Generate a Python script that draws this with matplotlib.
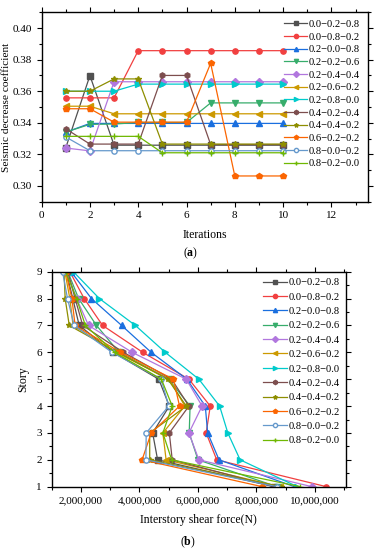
import numpy as np
import matplotlib
matplotlib.use('Agg')
import matplotlib.pyplot as plt
from matplotlib.ticker import MultipleLocator, FuncFormatter

plt.rcParams['font.family'] = ['Liberation Serif', 'DejaVu Serif']
plt.rcParams['font.size'] = 8
plt.rcParams['axes.unicode_minus'] = True
plt.rcParams['mathtext.fontset'] = 'custom'
plt.rcParams['mathtext.bf'] = 'Liberation Serif:bold'
plt.rcParams['mathtext.rm'] = 'Liberation Serif'

labels = ['0.0\u22120.2\u22120.8', '0.0\u22120.8\u22120.2', '0.2\u22120.0\u22120.8',
          '0.2\u22120.2\u22120.6', '0.2\u22120.4\u22120.4', '0.2\u22120.6\u22120.2',
          '0.2\u22120.8\u22120.0', '0.4\u22120.2\u22120.4', '0.4\u22120.4\u22120.2',
          '0.6\u22120.2\u22120.2', '0.8\u22120.0\u22120.2', '0.8\u22120.2\u22120.0']
colors = ['#515151', '#F14040', '#1A6FDF', '#37AD6B', '#B177DE', '#CC9900',
          '#00CBCC', '#7D4E4E', '#8E8E00', '#FB6501', '#6699CC', '#6FB802']
markers = ['s', 'o', '^', 'v', 'D', '<', '>', 'h', '*', 'p', 'o', '+']

# (a) seismic decrease coefficient per iteration
iterations = [1, 2, 3, 4, 5, 6, 7, 8, 9, 10]
coef = [
    [0.3242, 0.3699, 0.3258, 0.3258, 0.3258, 0.3258, 0.3258, 0.3258, 0.3258, 0.3258],
    [0.3558, 0.3558, 0.3558, 0.3857, 0.3857, 0.3857, 0.3857, 0.3857, 0.3857, 0.3857],
    [0.3340, 0.3396, 0.3396, 0.3396, 0.3396, 0.3396, 0.3396, 0.3396, 0.3396, 0.3396],
    [0.3341, 0.3390, 0.3392, 0.3402, 0.3402, 0.3402, 0.3526, 0.3526, 0.3526, 0.3526],
    [0.3240, 0.3222, 0.3660, 0.3660, 0.3660, 0.3660, 0.3660, 0.3660, 0.3660, 0.3660],
    [0.3505, 0.3505, 0.3457, 0.3457, 0.3457, 0.3457, 0.3457, 0.3457, 0.3457, 0.3457],
    [0.3600, 0.3600, 0.3600, 0.3645, 0.3645, 0.3645, 0.3645, 0.3645, 0.3645, 0.3645],
    [0.3362, 0.3265, 0.3265, 0.3265, 0.3700, 0.3700, 0.3262, 0.3262, 0.3262, 0.3262],
    [0.3600, 0.3600, 0.3678, 0.3678, 0.3265, 0.3265, 0.3265, 0.3265, 0.3265, 0.3265],
    [0.3489, 0.3489, 0.3404, 0.3404, 0.3404, 0.3404, 0.3777, 0.3063, 0.3063, 0.3063],
    [0.3310, 0.3223, 0.3223, 0.3223, 0.3223, 0.3223, 0.3223, 0.3223, 0.3223, 0.3223],
    [0.3314, 0.3314, 0.3314, 0.3314, 0.3210, 0.3210, 0.3210, 0.3210, 0.3210, 0.3210],
]

# (b) interstory shear force per story
stories = [1, 2, 3, 4, 5, 6, 7, 8, 9]
shear = [
    [8.60e6, 4.62e6, 4.45e6, 5.02e6, 4.66e6, 3.10e6, 1.94e6, 1.72e6, 1.50e6],
    [10.39e6, 6.64e6, 6.28e6, 6.42e6, 5.69e6, 4.11e6, 2.74e6, 2.11e6, 1.62e6],
    [9.30e6, 6.72e6, 6.33e6, 6.25e6, 5.62e6, 4.40e6, 3.39e6, 2.36e6, 1.66e6],
    [8.70e6, 6.00e6, 5.70e6, 5.73e6, 5.00e6, 3.30e6, 2.53e6, 1.92e6, 1.55e6],
    [9.90e6, 6.03e6, 5.69e6, 6.14e6, 5.60e6, 3.75e6, 2.26e6, 1.85e6, 1.52e6],
    [8.80e6, 4.91e6, 4.80e6, 5.55e6, 5.02e6, 3.20e6, 1.73e6, 1.62e6, 1.45e6],
    [9.40e6, 7.44e6, 7.02e6, 6.74e6, 6.03e6, 4.88e6, 3.86e6, 2.63e6, 1.74e6],
    [8.60e6, 5.12e6, 5.02e6, 5.69e6, 5.10e6, 3.45e6, 2.06e6, 1.80e6, 1.55e6],
    [8.85e6, 4.35e6, 4.35e6, 5.60e6, 4.97e6, 3.25e6, 1.60e6, 1.46e6, 1.42e6],
    [8.20e6, 4.09e6, 4.40e6, 5.37e6, 5.16e6, 3.35e6, 1.80e6, 1.69e6, 1.48e6],
    [8.70e6, 4.22e6, 4.23e6, 5.00e6, 4.74e6, 3.06e6, 1.77e6, 1.54e6, 1.37e6],
    [9.50e6, 5.10e6, 4.80e6, 5.12e6, 4.75e6, 3.15e6, 2.15e6, 1.85e6, 1.48e6],
]


def style_axes(ax):
    ax.tick_params(which='both', direction='out', top=True, right=True,
                   labeltop=False, labelright=False, width=0.8)
    ax.tick_params(which='major', length=3.5)
    ax.tick_params(which='minor', length=2)
    for s in ax.spines.values():
        s.set_linewidth(1.0)


fig = plt.figure(figsize=(3.75, 5.5), dpi=100)

ax1 = fig.add_axes([0.111, 0.6333, 0.8693, 0.3443])
for i in range(len(labels)):
    mfc = 'white' if i == 10 else colors[i]
    ax1.plot(iterations, coef[i], color=colors[i], marker=markers[i], markersize=3.8,
             markerfacecolor=mfc, lw=0.9, label=labels[i])
ax1.set_xlim(0, 13.5)
ax1.set_ylim(0.29, 0.41)
ax1.xaxis.set_major_locator(MultipleLocator(2))
ax1.xaxis.set_minor_locator(MultipleLocator(1))
ax1.yaxis.set_major_locator(MultipleLocator(0.02))
ax1.yaxis.set_minor_locator(MultipleLocator(0.01))
ax1.yaxis.set_major_formatter(FuncFormatter(lambda v, p: '%.2f' % v))
style_axes(ax1)
ax1.set_xlabel('Iterations', fontsize=8.5, labelpad=6)
ax1.set_ylabel('Seismic decrease coefficient', fontsize=8.2, labelpad=1)
ax1.legend(loc='upper right', frameon=False, fontsize=7.6, handlelength=2.2,
           handletextpad=0.15, labelspacing=0.31, borderaxespad=0.3,
           markerscale=0.8)
fig.text(0.507, 1 - 253 / 550, r'($\mathbf{a}$)', ha='center', va='center',
         fontsize=8.5)

ax2 = fig.add_axes([0.1379, 0.1151, 0.784, 0.3909])
for i in range(len(labels)):
    mfc = 'white' if i == 10 else colors[i]
    ax2.plot(shear[i], stories, color=colors[i], marker=markers[i], markersize=3.8,
             markerfacecolor=mfc, lw=0.9, label=labels[i])
ax2.set_xlim(1.0e6, 11.05e6)
ax2.set_ylim(1, 9)
ax2.xaxis.set_major_locator(MultipleLocator(2e6))
ax2.xaxis.set_minor_locator(MultipleLocator(1e6))
ax2.yaxis.set_major_locator(MultipleLocator(1))
ax2.yaxis.set_minor_locator(MultipleLocator(0.5))
ax2.xaxis.set_major_formatter(FuncFormatter(lambda v, p: '{:,.0f}'.format(v)))
style_axes(ax2)
ax2.set_xlabel('Interstory shear force(N)', fontsize=8.5, labelpad=6)
ax2.set_ylabel('Story', fontsize=8.5, labelpad=5)
ax2.legend(loc='upper right', frameon=False, fontsize=7.6, handlelength=2.2,
           handletextpad=0.15, labelspacing=0.47, borderaxespad=0.2,
           markerscale=0.8)
fig.text(0.5, 1 - 542 / 550, r'($\mathbf{b}$)', ha='center', va='center',
         fontsize=8.5)

fig.savefig('out.png', dpi=100)
